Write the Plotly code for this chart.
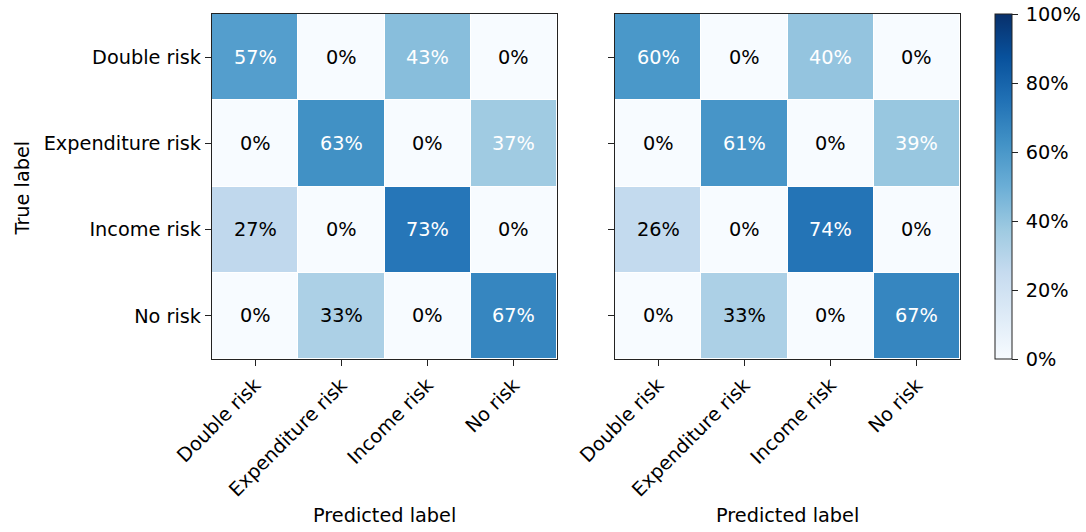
import plotly.graph_objects as go

categories = ["Double risk", "Expenditure risk", "Income risk", "No risk"]
left_values = [[57, 0, 43, 0],
               [0, 63, 0, 37],
               [27, 0, 73, 0],
               [0, 33, 0, 67]]
right_values = [[60, 0, 40, 0],
                [0, 61, 0, 39],
                [26, 0, 74, 0],
                [0, 33, 0, 67]]
cbar_ticks = [0, 20, 40, 60, 80, 100]
cbar_labels = ["0%", "20%", "40%", "60%", "80%", "100%"]

W, H = 1086, 532
FONT = "DejaVu Sans"
FS = 19.3

fig = go.Figure()

fig.add_trace(go.Heatmap(
    z=left_values, x=categories, y=categories, xaxis="x", yaxis="y",
    colorscale="Blues", zmin=0, zmax=100, xgap=1, ygap=1, showscale=False,
    hoverinfo="skip"))
fig.add_trace(go.Heatmap(
    z=right_values, x=categories, y=categories, xaxis="x2", yaxis="y2",
    colorscale="Blues", zmin=0, zmax=100, xgap=1, ygap=1, showscale=True,
    hoverinfo="skip",
    colorbar=dict(
        x=995 / W, xanchor="left", xref="paper",
        y=1 - (14 + 359) / 2 / H, yanchor="middle",
        lenmode="fraction", len=345 / H,
        thicknessmode="pixels", thickness=17,
        outlinewidth=1, outlinecolor="#222",
        tickvals=cbar_ticks, ticktext=["\u2009" + t for t in cbar_labels],
        ticks="outside", ticklen=6, tickcolor="#222",
        tickfont=dict(family=FONT, size=FS, color="black"),
        xpad=0, ypad=0,
    )))

annotations = []
for vals, xr, yr in [(left_values, "x", "y"), (right_values, "x2", "y2")]:
    for i, row in enumerate(vals):
        for j, v in enumerate(row):
            annotations.append(dict(
                x=categories[j], y=categories[i], xref=xr, yref=yr,
                text=f"{v}%", showarrow=False,
                font=dict(family=FONT, size=FS,
                          color="white" if v > 35 else "black")))

for cx in [(212 + 557) / 2 / W, (615 + 960) / 2 / W]:
    annotations.append(dict(x=cx, y=1 - 515 / H, xref="paper", yref="paper",
                            xanchor="center", yanchor="middle",
                            text="Predicted label", showarrow=False,
                            font=dict(family=FONT, size=FS, color="black")))
annotations.append(dict(x=22 / W, y=1 - 188.5 / H, xref="paper", yref="paper",
                        xanchor="center", yanchor="middle",
                        text="True label", showarrow=False, textangle=-90,
                        font=dict(family=FONT, size=FS, color="black")))

axis_common = dict(showline=True, linecolor="#222", linewidth=1.3, mirror=True,
                   ticks="outside", ticklen=6, tickcolor="#222", tickwidth=1.2,
                   showgrid=False, zeroline=False, automargin=False,
                   tickfont=dict(family=FONT, size=FS, color="black"))

ydom = [1 - 359 / H, 1 - 14 / H]
fig.update_layout(
    width=W, height=H,
    margin=dict(l=0, r=0, t=0, b=0, autoexpand=False),
    paper_bgcolor="white", plot_bgcolor="white",
    font=dict(family=FONT, size=FS, color="black"),
    xaxis=dict(domain=[212 / W, 557 / W], anchor="y", tickangle=-45, **axis_common),
    yaxis=dict(domain=ydom, anchor="x", autorange="reversed", **axis_common),
    xaxis2=dict(domain=[615 / W, 960 / W], anchor="y2", tickangle=-45, **axis_common),
    yaxis2=dict(domain=ydom, anchor="x2", autorange="reversed", showticklabels=False,
                **axis_common),
    annotations=annotations,
)

fig.write_html("out.html")
